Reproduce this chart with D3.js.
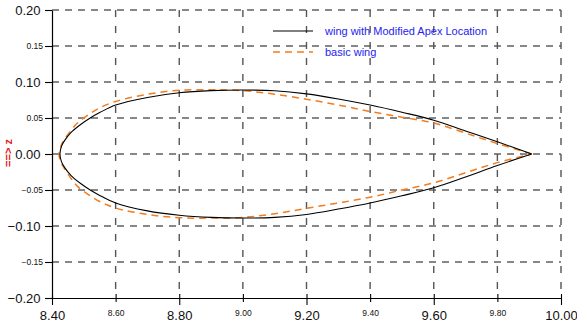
<!DOCTYPE html>
<html>
<head>
<meta charset="utf-8">
<script src="https://cdn.jsdelivr.net/npm/d3@7"></script>
<style>
  html, body { margin: 0; padding: 0; background: #fff; }
  svg { display: block; }
  text { font-family: "Liberation Sans", Arial, sans-serif; }
</style>
</head>
<body>
<svg id="chart" width="577" height="329"></svg>
<script>
// Tick values of the two axes
const xTicks = [8.40, 8.60, 8.80, 9.00, 9.20, 9.40, 9.60, 9.80, 10.00];
const zTicks = [-0.20, -0.15, -0.10, -0.05, 0.00, 0.05, 0.10, 0.15, 0.20];

// Section of the wing with the modified apex location: [x, z]
const modifiedUpper = [
  [8.425, 0.000], [8.430, 0.011], [8.440, 0.019], [8.460, 0.030], [8.490, 0.041],
  [8.520, 0.050], [8.550, 0.0575], [8.600, 0.068], [8.700, 0.0785], [8.800, 0.085],
  [8.900, 0.088], [9.000, 0.0889], [9.100, 0.0878], [9.200, 0.0835], [9.300, 0.0765],
  [9.400, 0.068], [9.500, 0.058], [9.600, 0.047], [9.700, 0.032], [9.800, 0.017],
  [9.908, 0.000]
];
const modifiedLower = [
  [8.425, 0.000], [8.430, -0.011], [8.440, -0.019], [8.460, -0.030], [8.490, -0.041],
  [8.520, -0.050], [8.550, -0.0575], [8.600, -0.068], [8.700, -0.079], [8.800, -0.085],
  [8.900, -0.088], [9.000, -0.0889], [9.100, -0.088], [9.200, -0.084], [9.300, -0.0765],
  [9.400, -0.068], [9.500, -0.058], [9.600, -0.047], [9.700, -0.032], [9.800, -0.016],
  [9.908, 0.000]
];

// Section of the basic wing: [x, z]
const basicUpper = [
  [8.422, 0.000], [8.430, 0.013], [8.440, 0.021], [8.460, 0.033], [8.480, 0.043],
  [8.520, 0.056], [8.550, 0.064], [8.600, 0.073], [8.700, 0.083], [8.800, 0.0885],
  [8.900, 0.0893], [9.000, 0.088], [9.100, 0.083], [9.200, 0.076], [9.300, 0.068],
  [9.400, 0.059], [9.500, 0.051], [9.600, 0.043], [9.700, 0.029], [9.800, 0.0145],
  [9.908, 0.000]
];
const basicLower = [
  [8.422, 0.000], [8.430, -0.013], [8.440, -0.021], [8.460, -0.034], [8.480, -0.045],
  [8.520, -0.058], [8.550, -0.066], [8.600, -0.075], [8.700, -0.084], [8.800, -0.0885],
  [8.900, -0.089], [9.000, -0.088], [9.100, -0.083], [9.200, -0.0755], [9.300, -0.068],
  [9.400, -0.060], [9.500, -0.050], [9.600, -0.040], [9.700, -0.026], [9.800, -0.012],
  [9.908, 0.000]
];

const series = [
  { name: "wing with Modified Apex Location", upper: modifiedUpper, lower: modifiedLower,
    color: "#000000", width: 1.1, dash: null },
  { name: "basic wing", upper: basicUpper, lower: basicLower,
    color: "#f27c1e", width: 1.5, dash: "7,5" }
];

const plot = { left: 52, right: 561, top: 10, bottom: 298 };

const svg = d3.select("#chart");

const x = d3.scaleLinear().domain([8.4, 10.0]).range([plot.left, plot.right]);
const y = d3.scaleLinear().domain([-0.2, 0.2]).range([plot.bottom, plot.top]);

const isMajorX = (d, i) => i % 2 === 0;
const isMajorZ = (d, i) => i % 2 === 0;

// Grid: black dashed rows, grey dashed columns
const grid = svg.append("g");
grid.selectAll("line.h")
  .data(zTicks.filter(v => v > -0.2 + 1e-9))
  .join("line")
  .attr("x1", plot.left).attr("x2", plot.right)
  .attr("y1", d => y(d)).attr("y2", d => y(d))
  .attr("stroke", "#111").attr("stroke-width", 1)
  .attr("stroke-dasharray", "7,6");
grid.selectAll("line.v")
  .data(xTicks.filter(v => v > 8.4 + 1e-9))
  .join("line")
  .attr("x1", d => x(d)).attr("x2", d => x(d))
  .attr("y1", plot.top).attr("y2", plot.bottom)
  .attr("stroke", "#555").attr("stroke-width", 1.4)
  .attr("stroke-dasharray", "7,9");

// Axes
const xAxis = svg.append("g")
  .attr("transform", `translate(0,${plot.bottom})`)
  .call(d3.axisBottom(x).tickValues(xTicks).tickFormat(d3.format(".2f"))
    .tickSize(7).tickSizeOuter(0));
const zAxis = svg.append("g")
  .attr("transform", `translate(${plot.left},0)`)
  .call(d3.axisLeft(y).tickValues(zTicks).tickFormat(d3.format(".2f"))
    .tickSize(7).tickSizeOuter(0));

[xAxis, zAxis].forEach(g => {
  g.select(".domain").attr("stroke", "#000").attr("stroke-width", 1.2);
  g.selectAll(".tick line").attr("stroke", "#000").attr("stroke-width", 1.1);
  g.selectAll("text").attr("fill", "#111").attr("font-family", "Liberation Sans, Arial, sans-serif");
});

xAxis.selectAll(".tick line")
  .attr("y1", -4)
  .attr("y2", (d, i) => isMajorX(d, i) ? 7 : 4);
xAxis.selectAll(".tick text")
  .attr("font-size", (d, i) => isMajorX(d, i) ? 13 : 8.5)
  .attr("y", (d, i) => isMajorX(d, i) ? 12.5 : 11.5);

zAxis.selectAll(".tick text")
  .attr("font-size", (d, i) => isMajorZ(d, i) ? 13 : 8.5)
  .attr("x", (d, i) => isMajorZ(d, i) ? -11.5 : -9);

// Axis title
svg.append("text")
  .attr("transform", "translate(12,153) rotate(-90)")
  .attr("text-anchor", "middle")
  .attr("font-size", 11)
  .attr("font-weight", "bold")
  .attr("fill", "#e8141c")
  .text("==> z");

// Wing sections: trailing edge -> upper surface -> leading edge -> lower surface
const outline = d3.line()
  .x(d => x(d[0]))
  .y(d => y(d[1]))
  .curve(d3.curveCatmullRom.alpha(0.5));

const sections = svg.append("g");
series.slice().reverse().forEach(s => {
  const pts = s.upper.slice().reverse().concat(s.lower.slice(1));
  sections.append("path")
    .attr("d", outline(pts))
    .attr("fill", "none")
    .attr("stroke", s.color)
    .attr("stroke-width", s.width)
    .attr("stroke-dasharray", s.dash);
});

// Legend
const legend = svg.append("g");
series.forEach((s, i) => {
  const ly = 31 + i * 21;
  legend.append("line")
    .attr("x1", 273).attr("x2", 313)
    .attr("y1", ly).attr("y2", ly)
    .attr("stroke", s.color)
    .attr("stroke-width", s.width)
    .attr("stroke-dasharray", s.dash);
  legend.append("text")
    .attr("x", 325).attr("y", ly + 4)
    .attr("font-size", 11)
    .attr("fill", "#2323f0")
    .text(s.name);
});
</script>
</body>
</html>
